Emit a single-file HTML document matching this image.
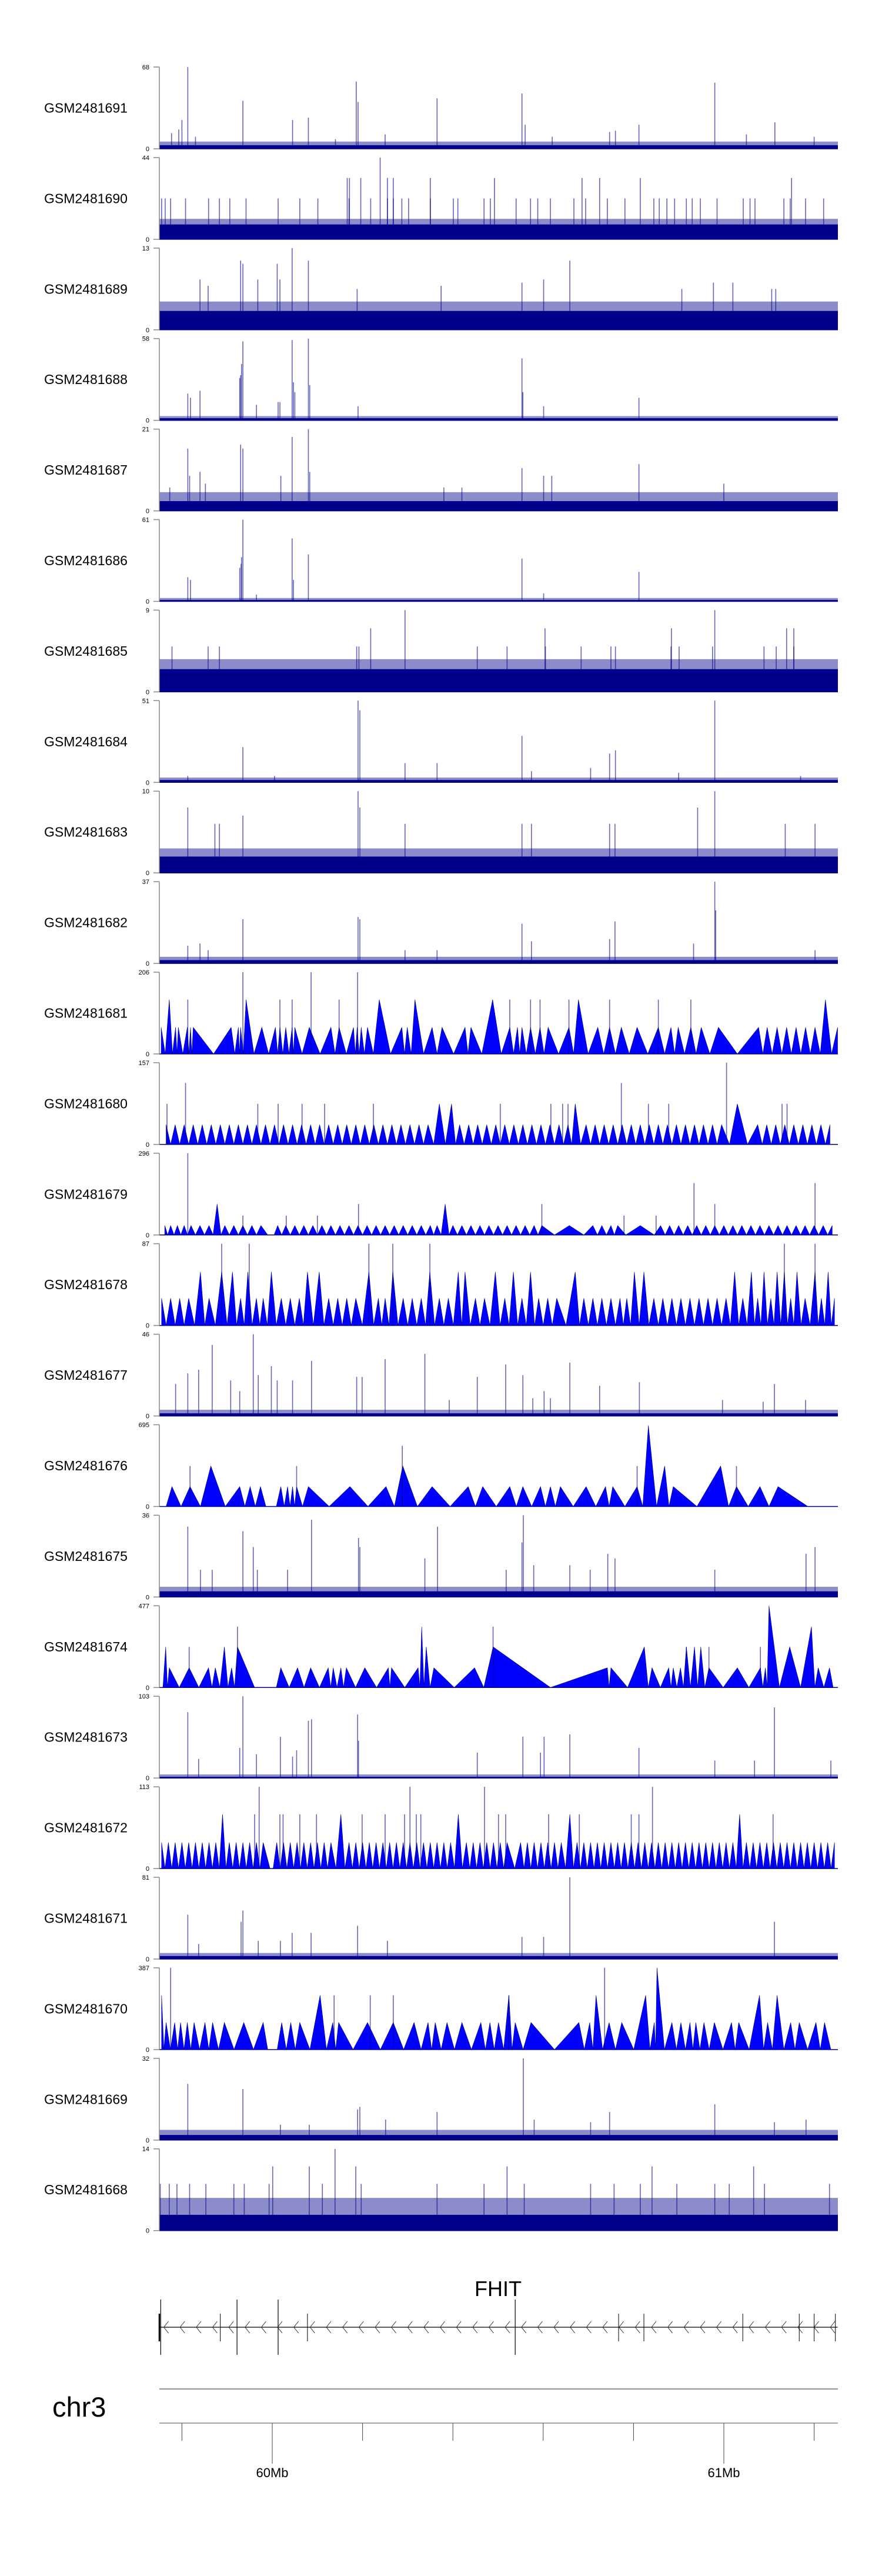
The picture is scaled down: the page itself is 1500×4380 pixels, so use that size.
<!DOCTYPE html>
<html><head><meta charset="utf-8"><title>GSM tracks chr3 FHIT</title>
<style>
html,body{margin:0;padding:0;background:#fff;}
svg{display:block;font-family:"Liberation Sans",Arial,sans-serif;}
</style></head>
<body>
<svg id="chart" width="1500" height="4380" viewBox="0 0 1500 4380" xmlns="http://www.w3.org/2000/svg"></svg>
<script>
// ---- genomic axis ----
const axisRange = [59.75, 61.2526];
const axisTicks = [59.8, 60.0, 60.2, 60.4, 60.6, 60.8, 61.0, 61.2];
const axisLabels = [[60.0, "60Mb"], [61.0, "61Mb"]];
const geneName = "FHIT";
const geneRange = [59.751, 61.252];
const geneTallExons = [59.753, 59.922, 60.013, 60.538];
const geneShortExons = [59.75, 59.885, 60.078, 60.767, 60.823, 61.042, 61.167, 61.200, 61.247];

// ---- sample names / y maxima ----
const sampleNames = ["GSM2481691","GSM2481690","GSM2481689","GSM2481688","GSM2481687","GSM2481686","GSM2481685","GSM2481684","GSM2481683","GSM2481682","GSM2481681","GSM2481680","GSM2481679","GSM2481678","GSM2481677","GSM2481676","GSM2481675","GSM2481674","GSM2481673","GSM2481672","GSM2481671","GSM2481670","GSM2481669","GSM2481668"];
const sampleMax = [68,44,13,58,21,61,9,51,10,37,206,157,296,87,46,695,36,477,103,113,81,387,32,14];
const sampleType = ["bar","bar","bar","bar","bar","bar","bar","bar","bar","bar","tri","tri","tri","tri","bar","tri","bar","tri","bar","tri","bar","tri","bar","bar"];
// solid baseline level and lighter fringe level (bar tracks)
const sampleBase = [3,8,3,1.5,2.5,1,2.5,1.5,2,1.5,0,0,0,0,1.5,0,2.5,0,1.5,0,3,0,2,2.7];
const sampleFringe = [6,11,4.5,3,4.8,2.5,3.6,3,3,3,0,0,0,0,3.5,0,4.5,0,4.5,0,6,0,4,5.6];

// ---- peaks (Mb, value) ----
const peaks1691 = [[59.813,68],[59.935,40],[60.045,24],[60.080,26],[60.186,56],[60.190,39],[60.365,42],[60.553,46],[60.560,20],[60.747,14],[60.760,15],[60.812,20],[60.980,55],[61.113,22],[61.200,10],[59.777,13],[59.793,16],[59.800,24],[59.830,10],[60.140,8],[60.250,12],[60.620,10],[61.050,12]];
const peaks1690 = [[59.755,22],[59.763,22],[59.775,22],[59.808,22],[59.859,22],[59.883,22],[59.906,22],[59.942,22],[60.013,22],[60.061,22],[60.101,22],[60.170,22],[60.218,22],[60.255,22],[60.268,22],[60.287,22],[60.302,22],[60.350,22],[60.401,22],[60.411,22],[60.469,22],[60.483,22],[60.540,22],[60.572,22],[60.588,22],[60.616,22],[60.668,22],[60.694,22],[60.742,22],[60.781,22],[60.845,22],[60.857,22],[60.874,22],[60.891,22],[60.917,22],[60.930,22],[60.948,22],[60.985,22],[61.043,22],[61.058,22],[61.069,22],[61.133,22],[61.147,22],[61.181,22],[61.221,22],[60.166,33],[60.171,33],[60.196,33],[60.255,33],[60.268,33],[60.350,33],[60.492,33],[60.686,33],[60.725,33],[60.815,33],[61.150,33],[60.239,44]];
const peaks1689 = [[59.930,11],[59.935,10.5],[60.011,10.5],[60.017,8],[60.044,13],[60.080,11],[59.840,8],[59.858,7],[59.968,8],[60.553,7.5],[60.601,8],[60.659,11],[60.977,7.5],[61.020,7.5],[61.106,6.5],[61.115,6.5],[60.374,7],[60.907,6.5],[60.188,6.5]];
const peaks1688 = [[59.928,30],[59.930,32],[59.932,40],[59.935,56],[60.044,57],[60.047,27],[60.050,20],[60.080,58],[60.083,25],[60.553,44],[60.555,20],[60.812,16],[59.813,19],[59.819,16],[59.840,21],[59.965,11],[60.013,13],[60.017,13],[60.190,10],[60.601,10]];
const peaks1687 = [[59.813,16],[59.817,9],[59.840,10],[59.930,17],[59.935,16],[60.044,19],[60.080,21],[60.083,10],[60.019,9],[60.553,11],[60.601,9],[60.619,9],[60.812,12],[61.000,7],[59.773,6],[59.852,7],[60.380,6],[60.420,6]];
const peaks1686 = [[59.928,25],[59.932,33],[59.935,61],[59.931,28],[60.044,47],[60.047,16],[60.080,35],[60.553,32],[60.812,22],[59.813,18],[59.819,16],[60.601,6],[59.965,5]];
const peaks1685 = [[59.778,5],[59.858,5],[59.883,5],[60.187,5],[60.192,5],[60.454,5],[60.520,5],[60.605,5],[60.684,5],[60.750,5],[60.760,5],[60.883,5],[60.901,5],[60.975,5],[61.089,5],[61.116,5],[61.155,5],[60.218,7],[60.604,7],[60.884,7],[61.139,7],[61.155,7],[60.294,9],[60.980,9]];
const peaks1684 = [[59.935,22],[60.190,51],[60.194,45],[60.294,12],[60.365,12],[60.553,29],[60.574,7],[60.705,9],[60.747,18],[60.760,20],[60.980,51],[60.900,6],[61.170,4],[59.813,4],[60.005,4]];
const peaks1683 = [[60.190,10],[60.194,8],[59.813,8],[59.935,7],[59.873,6],[59.883,6],[60.294,6],[60.553,6],[60.574,6],[60.747,6],[60.759,6],[60.942,8],[60.980,10],[61.136,6],[61.202,6]];
const peaks1682 = [[59.935,20],[60.190,21],[60.194,20],[60.553,18],[60.574,10],[60.747,11],[60.759,19],[60.933,9],[60.980,37],[60.982,24],[61.202,6],[59.813,8],[59.840,9],[59.858,6],[60.365,6],[60.294,6]];
const peaks1677 = [[59.958,46],[59.867,40],[59.837,26],[59.813,24],[59.786,18],[59.908,20],[59.928,14],[59.969,23],[59.998,28],[60.011,20],[60.045,20],[60.087,31],[60.187,22],[60.199,22],[60.250,32],[60.338,35],[60.454,22],[60.517,29],[60.555,23],[60.659,30],[60.725,17],[60.813,19],[61.112,18],[60.997,9],[61.087,8],[61.181,9],[60.392,9],[60.602,14],[60.616,10],[60.577,10]];
const peaks1675 = [[59.813,31],[59.935,29],[59.958,22],[60.087,34],[60.191,26],[60.194,22],[60.338,17],[60.366,31],[60.553,24],[60.556,36],[60.743,19],[60.759,17],[61.182,19],[61.202,22],[59.841,12],[59.867,12],[59.967,12],[60.034,12],[60.518,12],[60.579,14],[60.659,14],[60.704,12],[60.980,12]];
const peaks1673 = [[59.813,83],[59.935,103],[59.928,38],[60.018,52],[60.045,27],[60.054,35],[60.080,72],[60.087,74],[60.189,80],[60.191,47],[60.454,32],[60.555,52],[60.594,32],[60.602,52],[60.659,55],[60.812,38],[60.980,22],[61.068,22],[61.112,89],[61.237,22],[59.837,24],[59.965,30]];
const peaks1671 = [[59.813,44],[59.935,48],[59.931,37],[60.659,81],[60.044,26],[60.086,26],[60.189,33],[60.553,22],[60.601,22],[61.112,37],[59.837,15],[59.969,18],[60.018,18],[60.255,18]];
const peaks1669 = [[59.813,22],[59.935,20],[60.556,32],[60.189,12],[60.194,13],[60.365,11],[60.747,11],[60.980,14],[61.112,7],[61.182,8],[60.018,6],[60.082,6],[60.251,8],[60.580,8],[60.705,7]];
const peaks1668 = [[60.001,11],[60.082,11],[60.185,11],[60.520,11],[60.841,11],[61.066,11],[60.139,14],[59.752,8],[59.772,8],[59.789,8],[59.817,8],[59.853,8],[59.915,8],[59.938,8],[59.993,8],[60.111,8],[60.197,8],[60.365,8],[60.469,8],[60.558,8],[60.705,8],[60.757,8],[60.815,8],[60.896,8],[60.980,8],[61.012,8],[61.090,8],[61.234,8]];

// ---- triangle tracks: apexes (Mb, value); spikes (Mb, value) ----
const apex1681 = [[59.754,67],[59.772,137],[59.786,67],[59.792,67],[59.812,67],[59.819,67],[59.825,67],[59.870,0],[59.909,67],[59.925,67],[59.930,67],[59.942,137],[59.977,67],[60.007,67],[60.017,67],[60.030,67],[60.044,67],[60.050,67],[60.082,67],[60.130,67],[60.148,67],[60.180,67],[60.188,67],[60.197,67],[60.211,67],[60.237,137],[60.287,67],[60.299,67],[60.316,137],[60.354,67],[60.376,67],[60.427,67],[60.440,67],[60.488,137],[60.526,67],[60.543,67],[60.553,67],[60.572,67],[60.593,67],[60.611,67],[60.657,67],[60.678,137],[60.721,67],[60.747,67],[60.773,67],[60.808,67],[60.855,67],[60.883,67],[60.899,67],[60.927,67],[60.950,67],[60.988,67],[61.030,0],[61.077,67],[61.096,67],[61.118,67],[61.139,67],[61.160,67],[61.181,67],[61.202,67],[61.225,137],[61.252,67]];
const spikes1681 = [[59.935,206],[60.086,206],[60.189,206],[59.813,137],[60.017,137],[60.044,137],[60.148,137],[60.526,137],[60.572,137],[60.593,137],[60.657,137],[60.747,137],[60.855,137],[60.927,137]];
const apex1680 = [[59.765,38],[59.785,38],[59.805,38],[59.825,38],[59.845,38],[59.865,38],[59.885,38],[59.905,38],[59.925,38],[59.945,38],[59.965,38],[59.985,38],[60.005,38],[60.025,38],[60.045,38],[60.065,38],[60.085,38],[60.105,38],[60.125,38],[60.145,38],[60.165,38],[60.185,38],[60.205,38],[60.225,38],[60.245,38],[60.265,38],[60.285,38],[60.305,38],[60.325,38],[60.345,38],[60.370,78],[60.397,78],[60.415,38],[60.435,38],[60.455,38],[60.475,38],[60.495,38],[60.515,38],[60.535,38],[60.555,38],[60.575,38],[60.595,38],[60.615,38],[60.635,38],[60.655,38],[60.671,78],[60.695,38],[60.715,38],[60.735,38],[60.755,38],[60.775,38],[60.795,38],[60.815,38],[60.835,38],[60.855,38],[60.875,38],[60.895,38],[60.915,38],[60.935,38],[60.955,38],[60.975,38],[60.995,38],[61.030,78],[61.075,38],[61.095,38],[61.115,38],[61.135,38],[61.155,38],[61.175,38],[61.195,38],[61.215,38],[61.235,38]];
const spikes1680 = [[61.006,157],[60.773,118],[59.808,118],[59.767,78],[59.968,78],[60.013,78],[60.066,78],[60.116,78],[60.224,78],[60.505,78],[60.617,78],[60.643,78],[60.655,78],[60.833,78],[60.878,78],[61.129,78],[61.140,78]];
const apex1679 = [[59.762,34],[59.775,34],[59.790,34],[59.805,34],[59.820,34],[59.840,34],[59.860,34],[59.878,112],[59.895,34],[59.915,34],[59.935,34],[59.955,34],[59.975,34],[59.990,0],[60.004,0],[60.012,34],[60.030,34],[60.050,34],[60.070,34],[60.090,34],[60.110,34],[60.130,34],[60.150,34],[60.170,34],[60.190,34],[60.210,34],[60.230,34],[60.250,34],[60.270,34],[60.290,34],[60.310,34],[60.330,34],[60.350,34],[60.365,34],[60.383,112],[60.400,34],[60.420,34],[60.440,34],[60.460,34],[60.480,34],[60.500,34],[60.520,34],[60.540,34],[60.560,34],[60.580,34],[60.597,34],[60.625,0],[60.658,34],[60.690,0],[60.710,34],[60.730,34],[60.750,34],[60.765,34],[60.783,0],[60.815,34],[60.846,0],[60.860,34],[60.880,34],[60.900,34],[60.920,34],[60.940,34],[60.960,34],[60.980,34],[61.000,34],[61.020,34],[61.040,34],[61.060,34],[61.080,34],[61.100,34],[61.120,34],[61.140,34],[61.160,34],[61.180,34],[61.200,34],[61.220,34],[61.240,34]];
const spikes1679 = [[59.813,296],[60.934,188],[61.202,188],[60.980,112],[60.597,112],[60.191,112],[59.935,70],[60.100,70],[60.031,70],[60.779,70],[60.850,70]];
const apex1678 = [[59.755,29],[59.775,29],[59.795,29],[59.815,29],[59.841,57],[59.860,29],[59.888,57],[59.912,57],[59.930,29],[59.946,57],[59.965,29],[59.980,29],[59.998,57],[60.020,29],[60.040,29],[60.060,29],[60.078,57],[60.104,57],[60.125,29],[60.145,29],[60.165,29],[60.185,29],[60.214,57],[60.235,29],[60.250,29],[60.267,57],[60.290,29],[60.310,29],[60.330,29],[60.349,57],[60.370,29],[60.390,29],[60.412,57],[60.427,57],[60.450,29],[60.470,29],[60.494,57],[60.515,29],[60.534,57],[60.553,29],[60.572,57],[60.590,29],[60.610,29],[60.630,29],[60.671,57],[60.690,29],[60.710,29],[60.730,29],[60.750,29],[60.770,29],[60.785,29],[60.802,57],[60.823,57],[60.845,29],[60.865,29],[60.885,29],[60.905,29],[60.925,29],[60.945,29],[60.965,29],[60.985,29],[61.005,29],[61.024,57],[61.042,29],[61.061,57],[61.075,29],[61.089,57],[61.104,29],[61.118,57],[61.134,57],[61.148,29],[61.162,57],[61.180,29],[61.202,57],[61.216,29],[61.231,57],[61.245,29]];
const spikes1678 = [[59.888,87],[59.949,87],[60.214,87],[60.267,87],[60.349,87],[61.134,87],[61.202,87]];
const apex1676 = [[59.765,0],[59.778,169],[59.818,169],[59.864,344],[59.928,169],[59.951,169],[59.974,169],[59.986,0],[60.009,0],[60.019,169],[60.034,169],[60.045,169],[60.054,169],[60.080,169],[60.172,169],[60.252,169],[60.289,344],[60.354,169],[60.434,169],[60.466,169],[60.526,169],[60.555,169],[60.594,169],[60.616,169],[60.638,169],[60.695,169],[60.738,169],[60.754,169],[60.808,169],[60.833,689],[60.869,344],[60.888,169],[60.993,344],[61.028,169],[61.080,169],[61.120,169],[61.186,0]];
const spikes1676 = [[59.818,344],[60.054,344],[60.288,516],[60.808,344],[61.028,344]];
const apex1674 = [[59.758,0],[59.764,237],[59.772,115],[59.816,115],[59.859,115],[59.874,115],[59.894,237],[59.910,115],[59.923,237],[59.961,0],[60.009,0],[60.019,115],[60.056,115],[60.085,115],[60.124,115],[60.135,115],[60.152,115],[60.164,115],[60.205,115],[60.257,115],[60.264,115],[60.323,115],[60.331,355],[60.341,237],[60.358,115],[60.448,115],[60.489,237],[60.616,0],[60.742,115],[60.750,115],[60.824,237],[60.841,115],[60.878,115],[60.888,115],[60.904,115],[60.917,237],[60.935,237],[60.949,237],[60.967,115],[61.030,115],[61.081,115],[61.092,115],[61.100,477],[61.146,237],[61.194,355],[61.209,115],[61.234,115],[61.242,0]];
const spikes1674 = [[59.816,237],[59.923,355],[60.489,355],[60.967,237],[61.081,237],[60.917,237]];
const apex1672 = [[59.755,36],[59.770,36],[59.785,36],[59.800,36],[59.815,36],[59.830,36],[59.845,36],[59.860,36],[59.875,36],[59.890,75],[59.905,36],[59.920,36],[59.935,36],[59.950,36],[59.965,36],[59.980,36],[59.995,0],[60.002,0],[60.010,36],[60.025,36],[60.040,36],[60.055,36],[60.070,36],[60.085,36],[60.100,36],[60.115,36],[60.130,36],[60.152,75],[60.170,36],[60.185,36],[60.200,36],[60.215,36],[60.230,36],[60.245,36],[60.260,36],[60.275,36],[60.290,36],[60.305,36],[60.320,36],[60.335,36],[60.350,36],[60.365,36],[60.380,36],[60.395,36],[60.412,75],[60.430,36],[60.445,36],[60.460,36],[60.475,36],[60.490,36],[60.505,36],[60.520,36],[60.537,0],[60.550,36],[60.565,36],[60.580,36],[60.595,36],[60.610,36],[60.625,36],[60.640,36],[60.659,75],[60.675,36],[60.690,36],[60.705,36],[60.720,36],[60.735,36],[60.750,36],[60.765,36],[60.780,36],[60.795,36],[60.810,36],[60.825,36],[60.840,36],[60.855,36],[60.870,36],[60.885,36],[60.900,36],[60.915,36],[60.930,36],[60.945,36],[60.960,36],[60.975,36],[60.990,36],[61.005,36],[61.020,36],[61.035,75],[61.050,36],[61.065,36],[61.080,36],[61.095,36],[61.110,36],[61.125,36],[61.140,36],[61.155,36],[61.170,36],[61.185,36],[61.200,36],[61.215,36],[61.230,36],[61.245,36]];
const spikes1672 = [[59.971,113],[60.305,113],[60.470,113],[60.842,113],[59.961,75],[60.017,75],[60.024,75],[60.061,75],[60.098,75],[60.199,75],[60.250,75],[60.293,75],[60.319,75],[60.329,75],[60.501,75],[60.517,75],[60.612,75],[60.680,75],[60.795,75],[60.812,75],[61.109,75]];
const apex1670 = [[59.755,257],[59.765,128],[59.784,128],[59.797,128],[59.812,128],[59.827,128],[59.851,128],[59.868,128],[59.894,128],[59.937,128],[59.980,128],[59.990,0],[60.011,0],[60.021,128],[60.041,128],[60.061,128],[60.106,257],[60.134,128],[60.147,128],[60.211,128],[60.268,128],[60.314,128],[60.345,128],[60.361,128],[60.387,128],[60.420,128],[60.462,128],[60.482,128],[60.501,128],[60.524,257],[60.538,128],[60.573,128],[60.625,0],[60.679,128],[60.703,128],[60.717,257],[60.746,128],[60.774,128],[60.827,257],[60.846,128],[60.852,387],[60.885,128],[60.905,128],[60.925,128],[60.938,128],[60.956,128],[60.979,128],[61.017,128],[61.033,128],[61.079,257],[61.097,128],[61.118,257],[61.148,128],[61.167,128],[61.204,128],[61.223,128],[61.237,0]];
const spikes1670 = [[59.775,387],[60.137,257],[60.217,257],[60.268,257],[60.524,257],[60.736,387]];

const trackPeaks = {"GSM2481691":peaks1691,"GSM2481690":peaks1690,"GSM2481689":peaks1689,"GSM2481688":peaks1688,"GSM2481687":peaks1687,"GSM2481686":peaks1686,"GSM2481685":peaks1685,"GSM2481684":peaks1684,"GSM2481683":peaks1683,"GSM2481682":peaks1682,"GSM2481677":peaks1677,"GSM2481675":peaks1675,"GSM2481673":peaks1673,"GSM2481671":peaks1671,"GSM2481669":peaks1669,"GSM2481668":peaks1668,
 "GSM2481681":spikes1681,"GSM2481680":spikes1680,"GSM2481679":spikes1679,"GSM2481678":spikes1678,"GSM2481676":spikes1676,"GSM2481674":spikes1674,"GSM2481672":spikes1672,"GSM2481670":spikes1670};
const trackApex = {"GSM2481681":apex1681,"GSM2481680":apex1680,"GSM2481679":apex1679,"GSM2481678":apex1678,"GSM2481676":apex1676,"GSM2481674":apex1674,"GSM2481672":apex1672,"GSM2481670":apex1670};

// ---- layout ----
const NS = "http://www.w3.org/2000/svg";
const svg = document.getElementById("chart");
const X0 = 271, X1 = 1425, TOP0 = 114, STEP = 153.9, TH = 139;
function xs(mb){ return X0 + (mb - axisRange[0]) / (axisRange[1] - axisRange[0]) * (X1 - X0); }
function mk(tag, attrs, parent){ const e = document.createElementNS(NS, tag); for (const k in attrs) e.setAttribute(k, attrs[k]); (parent||svg).appendChild(e); return e; }

sampleNames.forEach(function(name, i){
  const top = TOP0 + STEP * i, zero = top + TH, max = sampleMax[i];
  const ys = function(v){ return zero - Math.min(v, max) / max * TH; };
  const g = mk("g", {});
  
  

  const lab = mk("text", {x: 75, y: top + TH/2 + 8, "font-size": 23, fill: "#000"}, g);
  lab.textContent = name;
  
  

  if (sampleType[i] === "bar") {
    const fr = mk("rect", {x: X0, y: ys(sampleFringe[i]), width: X1 - X0, height: zero - ys(sampleFringe[i]), fill: "#00008b", "fill-opacity": 0.45}, g);
    
    
    const bs = mk("rect", {x: X0, y: ys(sampleBase[i]), width: X1 - X0, height: zero - ys(sampleBase[i]), fill: "#00008b"}, g);
    
    
  } else {
    const ap = trackApex[name];
    const pts = [[ap[0][0], 0]];
    for (let k = 0; k < ap.length; k++) {
      pts.push(ap[k]);
      if (k + 1 < ap.length && ap[k][1] > 0 && ap[k+1][1] > 0) pts.push([(ap[k][0] + ap[k+1][0]) / 2, 0]);
    }
    pts.push([ap[ap.length-1][0], 0]);
    const poly = mk("polygon", {points: pts.map(function(p){ return xs(p[0]).toFixed(1) + "," + ys(p[1]).toFixed(1); }).join(" "), fill: "#0000ff", stroke: "#00008b", "stroke-width": 0.6}, g);
    
    
  }
  (trackPeaks[name] || []).forEach(function(p){
    const ln = mk("line", {x1: xs(p[0]), x2: xs(p[0]), y1: zero, y2: ys(p[1]), stroke: "#00008b", "stroke-opacity": 0.6, "stroke-width": 1.6}, g);
    
    
  });
  const zl = mk("line", {x1: X0, x2: X1, y1: zero, y2: zero, stroke: "#00008b", "stroke-width": 1.5}, g);
  
  
  const ax = mk("line", {x1: X0, x2: X0, y1: top, y2: zero, stroke: "#888", "stroke-width": 1.5}, g);
  
  
  [[max, top], [0, zero]].forEach(function(t){
    const tk = mk("line", {x1: X0 - 10, x2: X0, y1: t[1], y2: t[1], stroke: "#888", "stroke-width": 1.5}, g);
    
    
    const tl = mk("text", {x: X0 - 17, y: t[1] + 4, "font-size": 11, "text-anchor": "end", fill: "#000"}, g);
    tl.textContent = String(t[0]);
    
    
  });
});

// ---- gene track ----
const gg = mk("g", {});


const gl = mk("text", {x: 847, y: 3904, "font-size": 36, "text-anchor": "middle", fill: "#000"}, gg);
gl.textContent = geneName;


const gline = mk("line", {x1: xs(geneRange[0]), x2: xs(geneRange[1]), y1: 3957, y2: 3957, stroke: "#000", "stroke-width": 1.2}, gg);


for (let m = geneRange[0] + 0.014; m < geneRange[1]; m += 0.036) {
  const x = xs(m);
  const ch = mk("path", {d: "M" + (x + 4) + " 3947 L" + (x - 4) + " 3957 L" + (x + 4) + " 3967", fill: "none", stroke: "#333", "stroke-width": 1}, gg);
  
  
}
geneTallExons.forEach(function(m){
  const e = mk("line", {x1: xs(m), x2: xs(m), y1: 3910, y2: 4004, stroke: "#000", "stroke-width": 1.2}, gg);
  
  
});
geneShortExons.forEach(function(m){
  const e = mk("line", {x1: xs(m), x2: xs(m), y1: 3934, y2: 3981, stroke: "#000", "stroke-width": m === geneShortExons[0] ? 2.5 : 1}, gg);
  
  
});

// ---- chromosome axis ----
const ag = mk("g", {});


const chr = mk("text", {x: 89, y: 4109, "font-size": 47, fill: "#000"}, ag);
chr.textContent = "chr3";


const gray = mk("line", {x1: X0, x2: X1, y1: 4062, y2: 4062, stroke: "#999", "stroke-width": 2.2}, ag);


const axl = mk("line", {x1: X0, x2: X1, y1: 4120, y2: 4120, stroke: "#888", "stroke-width": 1.5}, ag);


axisTicks.forEach(function(m){
  const major = axisLabels.some(function(l){ return Math.abs(l[0] - m) < 1e-6; });
  const t = mk("line", {x1: xs(m), x2: xs(m), y1: 4120, y2: major ? 4189 : 4150, stroke: "#444", "stroke-width": 1}, ag);
  
  
});
axisLabels.forEach(function(l){
  const t = mk("text", {x: xs(l[0]), y: 4212, "font-size": 22, "text-anchor": "middle", fill: "#000"}, ag);
  t.textContent = l[1];
  
  
});
</script>
</body></html>
